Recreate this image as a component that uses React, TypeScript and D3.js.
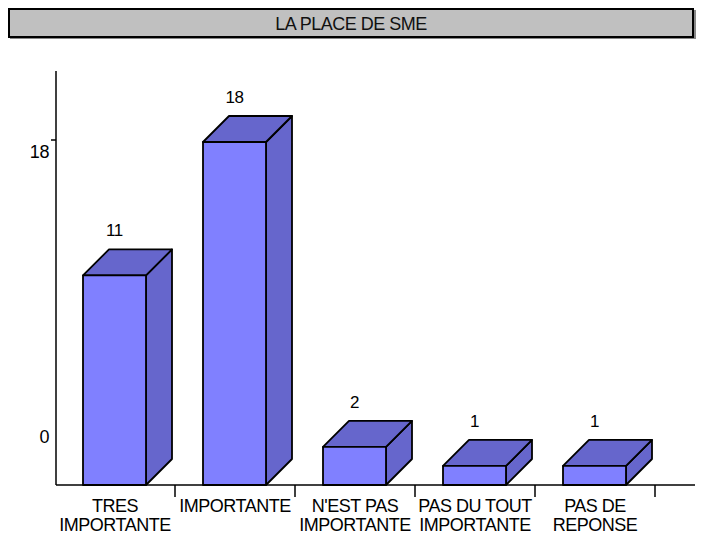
import * as d3 from "d3";

const categories = [
  "TRES\nIMPORTANTE",
  "IMPORTANTE",
  "N'EST PAS\nIMPORTANTE",
  "PAS DU TOUT\nIMPORTANTE",
  "PAS DE\nREPONSE",
];
const values = [11, 18, 2, 1, 1];
const yTicks = [0, 18];
const title = "LA PLACE DE SME";

const W = 702;
const H = 535;
const font = "'Liberation Sans', Arial, sans-serif";
const front = "#8080FF";
const shade = "#6666CC";
const depth = 26;

export default function App() {
  const x = d3.scaleBand<string>().domain(categories).range([55, 655]);
  const y = d3.scaleLinear().domain([0, 18]).range([485, 142]);
  const barOff = 28;
  const barW = 63;

  return (
    <svg
      width={W}
      height={H}
      style={{ position: "absolute", left: 0, top: 0, display: "block" }}
    >
      <rect width={W} height={H} fill="#fff" />
      {/* title box */}
      <rect x={10} y={10} width={686} height={29} fill="#888" />
      <rect x={9} y={9} width={684} height={28} fill="#c0c0c0" stroke="#000" strokeWidth={2} />
      <text
        x={351}
        y={30}
        textAnchor="middle"
        fontFamily={font}
        fontSize={18}
        letterSpacing={-0.5}
        fill="#111"
      >
        {title}
      </text>

      {/* axes */}
      <line x1={56} y1={71} x2={56} y2={y(0)} stroke="#000" strokeWidth={1.5} />
      <line x1={56} y1={y(0)} x2={695} y2={y(0)} stroke="#000" strokeWidth={1.5} />
      <line x1={51} y1={y(18) - 2} x2={56} y2={y(18) - 2} stroke="#000" strokeWidth={1.5} />
      {yTicks.map((t) => (
        <text
          key={t}
          x={49}
          y={t === 0 ? y(t) - 42 : y(t) + 16}
          textAnchor="end"
          fontFamily={font}
          fontSize={18}
          letterSpacing={-0.4}
          fill="#000"
        >
          {t}
        </text>
      ))}
      {categories.map((c) => (
        <line
          key={"t" + c}
          x1={(x(c) ?? 0) + x.bandwidth()}
          y1={y(0)}
          x2={(x(c) ?? 0) + x.bandwidth()}
          y2={y(0) + 12}
          stroke="#000"
          strokeWidth={1.5}
        />
      ))}

      {/* 3D bars */}
      {categories.map((c, i) => {
        const x0 = (x(c) ?? 0) + barOff;
        const x1 = x0 + barW;
        const yt = y(values[i]);
        const yb = y(0);
        const top = `M${x0},${yt} L${x0 + depth},${yt - depth} L${x1 + depth},${yt - depth} L${x1},${yt} Z`;
        const side = `M${x1},${yt} L${x1 + depth},${yt - depth} L${x1 + depth},${yb - depth} L${x1},${yb} Z`;
        return (
          <g key={c} stroke="#000" strokeWidth={1.8} strokeLinejoin="round">
            <path d={side} fill={shade} />
            <path d={top} fill={shade} />
            <rect x={x0} y={yt} width={barW} height={yb - yt} fill={front} />
            <text
              x={x0 + barW / 2}
              y={yt - depth - 13}
              textAnchor="middle"
              fontFamily={font}
              fontSize={17}
              letterSpacing={-0.4}
              fill="#000"
              stroke="none"
            >
              {values[i]}
            </text>
          </g>
        );
      })}

      {/* category labels */}
      {categories.map((c) =>
        c.split("\n").map((line, j) => (
          <text
            key={c + j}
            x={(x(c) ?? 0) + x.bandwidth() / 2}
            y={512 + j * 19}
            textAnchor="middle"
            fontFamily={font}
            fontSize={18}
            letterSpacing={-0.5}
            fill="#000"
          >
            {line}
          </text>
        ))
      )}
    </svg>
  );
}
